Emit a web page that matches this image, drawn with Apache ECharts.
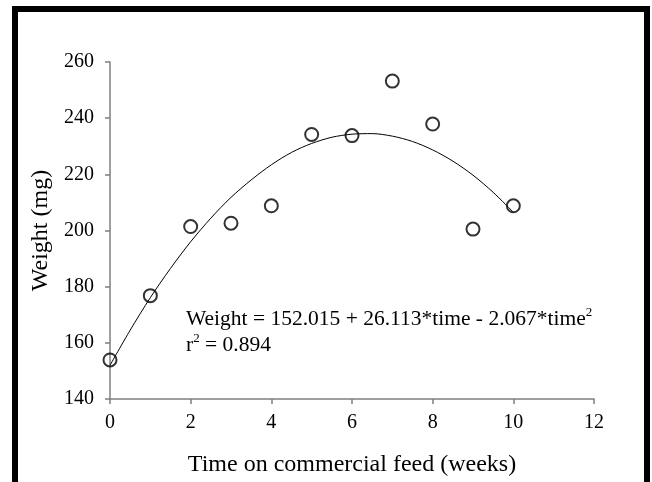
<!DOCTYPE html>
<html>
<head>
<meta charset="utf-8">
<script src="https://cdn.jsdelivr.net/npm/echarts@6/dist/echarts.min.js"></script>
<style>
  html, body { margin: 0; padding: 0; background: #fff; }
  #main { width: 652px; height: 482px; }
</style>
</head>
<body>
<div id="main"></div>
<script>
// observed weights (mg) per week on commercial feed
var weeks = [0, 1, 2, 3, 4, 5, 6, 7, 8, 9, 10];
var weights = [153.9, 176.8, 201.4, 202.6, 208.8, 234.2, 233.8, 253.2, 237.9, 200.5, 208.8];
// fitted curve (every half week)
var curveWeeks = [0, 0.5, 1, 1.5, 2, 2.5, 3, 3.5, 4, 4.5, 5, 5.5, 6, 6.5, 7, 7.5, 8, 8.5, 9, 9.5, 10];
var curveWeights = [152.0, 164.5, 176.1, 186.5, 196.0, 204.4, 211.8, 218.0, 223.4, 227.8, 231.0,
                    233.2, 234.3, 234.5, 233.6, 231.7, 228.7, 224.7, 219.7, 213.6, 206.5];
var yTicks = [140, 160, 180, 200, 220, 240, 260];
var xTicks = [0, 2, 4, 6, 8, 10, 12];

var myChart = echarts.init(document.getElementById('main'));

var pts = weeks.map(function (w, i) { return [w, weights[i]]; });
var fit = curveWeeks.map(function (w, i) { return [w, curveWeights[i]]; });

var serif = '"Liberation Serif", "Times New Roman", serif';
var axisGray = '#7f7f7f';

var option = {
    backgroundColor: '#fff',
    animation: false,
    grid: { left: 110, right: 58, top: 62, bottom: 83 },
    xAxis: {
        type: 'value',
        min: xTicks[0],
        max: xTicks[xTicks.length - 1],
        interval: 2,
        name: 'Time on commercial feed (weeks)',
        nameLocation: 'middle',
        nameGap: 54,
        nameTextStyle: { fontFamily: serif, fontSize: 24, color: '#000' },
        axisLine: { show: true, lineStyle: { color: axisGray, width: 1.5 } },
        axisTick: { show: true, inside: false, length: 5, lineStyle: { color: axisGray, width: 1.5 } },
        axisLabel: { fontFamily: serif, fontSize: 20, color: '#000', margin: 14 },
        splitLine: { show: false }
    },
    yAxis: {
        type: 'value',
        min: yTicks[0],
        max: yTicks[yTicks.length - 1],
        interval: 20,
        name: 'Weight (mg)',
        nameLocation: 'middle',
        nameGap: 57,
        nameTextStyle: { fontFamily: serif, fontSize: 24, color: '#000' },
        axisLine: { show: true, lineStyle: { color: axisGray, width: 1.5 } },
        axisTick: { show: true, inside: false, length: 5, lineStyle: { color: axisGray, width: 1.5 } },
        axisLabel: { fontFamily: serif, fontSize: 20, color: '#000', margin: 16 },
        splitLine: { show: false }
    },
    series: [
        {
            type: 'line',
            data: fit,
            smooth: 0.3,
            showSymbol: false,
            lineStyle: { color: '#000', width: 1 },
            z: 1
        },
        {
            type: 'scatter',
            data: pts,
            symbol: 'circle',
            symbolSize: 13,
            itemStyle: { color: 'rgba(0,0,0,0)', borderColor: '#000', borderWidth: 2 },
            z: 2
        }
    ],
    graphic: [
        {
            type: 'rect',
            shape: { x: 15, y: 9, width: 632, height: 520 },
            style: { fill: 'none', stroke: '#000', lineWidth: 6 },
            silent: true
        },
        {
            type: 'text',
            left: 186,
            top: 306,
            style: {
                text: '{a|Weight = 152.015 + 26.113*time - 2.067*time}{s|2}\n{a|r}{s|2}{a| = 0.894}',
                rich: {
                    a: { fontFamily: serif, fontSize: 21.5, color: '#000', lineHeight: 26 },
                    s: { fontFamily: serif, fontSize: 13, color: '#000', lineHeight: 26, verticalAlign: 'top', padding: [0, 0, 10, 0] }
                }
            }
        }
    ]
};

myChart.setOption(option);
</script>
</body>
</html>
